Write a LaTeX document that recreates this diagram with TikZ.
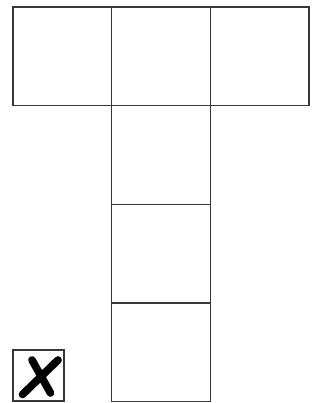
\documentclass[tikz,border=0pt]{standalone}
\usepackage{tikz}
\usetikzlibrary{positioning}
\definecolor{netgray}{RGB}{55,55,55}
\begin{document}
\begin{tikzpicture}[x=0.3mm,y=-0.3mm,
    face/.style={draw=netgray,line width=0.45mm,minimum size=29.6mm,inner sep=0pt,outer sep=0pt},
    tickbox/.style={draw=netgray,line width=0.45mm,minimum size=15.3mm,inner sep=0pt,outer sep=0pt}]
  \useasboundingbox (0,0) rectangle (322,403);
  %% top row
  \node[face] (faceL) at (62.3,56.3) {};
  \node[face] (faceM) at (161,56.3) {};
  \node[face] (faceR) at (259.7,56.3) {};
  %% column
  \node[face] (faceB1) at (161,155) {};
  \node[face] (faceB2) at (161,253.7) {};
  \node[face] (faceB3) at (161,352.4) {};
  %% crossed box
  \node[tickbox] (cross) at (38.5,375.5) {};
  \draw[line width=2.3mm,line cap=round] (22.5,394.5) -- (58,360);
  \draw[line width=2.3mm,line cap=round] (32,360) -- (50.5,393);
\end{tikzpicture}
\end{document}
